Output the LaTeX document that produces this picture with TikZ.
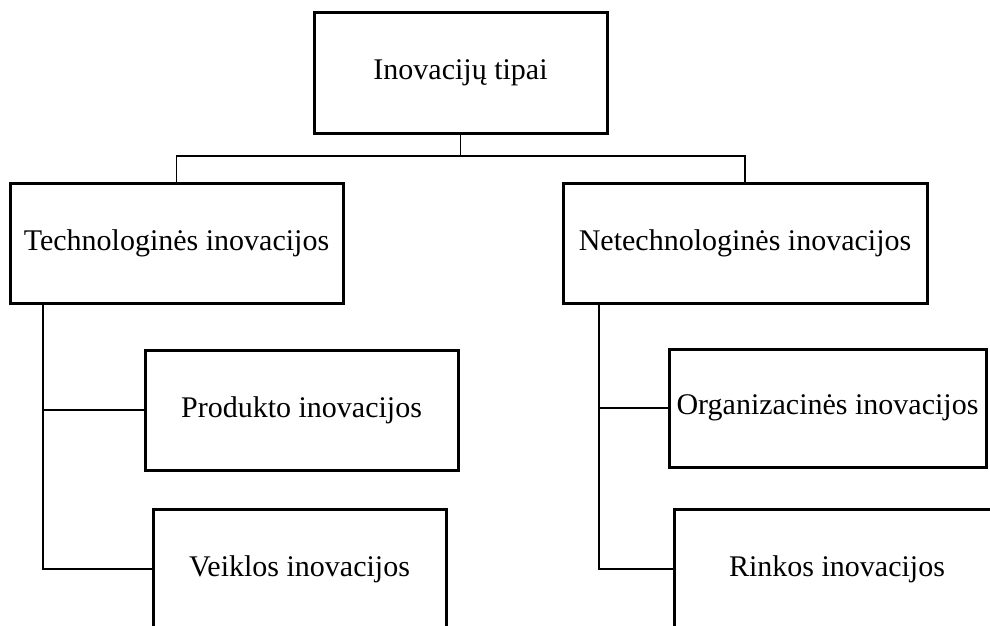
\documentclass[tikz,border=0pt]{standalone}
\usepackage{fontspec}
\setmainfont{Liberation Serif}
\begin{document}
\begin{tikzpicture}[x=1pt,y=-1pt,
  box/.style={draw=black, line width=3pt, fill=white, inner sep=0pt,
    minimum height=120pt, font=\fontsize{30}{35}\selectfont},
  link/.style={draw=black, line width=1.8pt}]
  \useasboundingbox (0,0) rectangle (990,626);
  \clip (0,0) rectangle (990,626);

  % boxes
  \node[box, minimum width=293pt] (top) at (460.5,73) {Inovacijų tipai};
  \node[box, minimum width=333pt] (tech) at (176.5,243) {Technologinės inovacijos};
  \node[box, minimum width=364pt] (netech) at (745,243) {Netechnologinės inovacijos};
  \node[box, minimum width=313pt] (prod) at (301.5,410) {Produkto inovacijos};
  \node[box, minimum width=293pt] (veik) at (299.5,569) {Veiklos inovacijos};
  \node[box, minimum width=317pt, minimum height=118pt] (org) at (827.5,408) {Organizacinės inovacijos};
  \node[box, minimum width=326pt] (rink) at (837,569) {Rinkos inovacijos};

  % bus between the two levels
  \coordinate (bus) at (0,156);
  \draw[link] (top.south) -- (top.south |- bus);
  \draw[link] (tech.north) -- (tech.north |- bus) -- (netech.north |- bus) -- (netech.north);

  % left trunk
  \coordinate (trunkL) at (43,0);
  \draw[link] (tech.south -| trunkL) |- (veik.west);
  \draw[link] (prod.west) -- (prod.west -| trunkL);

  % right trunk
  \coordinate (trunkR) at (599,0);
  \draw[link] (netech.south -| trunkR) |- (rink.west);
  \draw[link] (org.west) -- (org.west -| trunkR);
\end{tikzpicture}
\end{document}
